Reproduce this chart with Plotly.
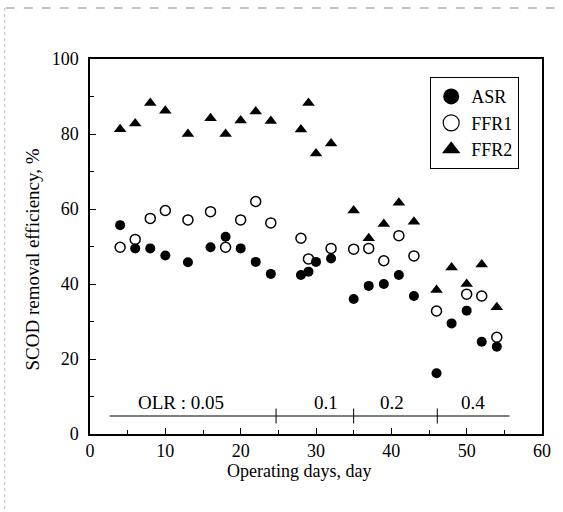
import plotly.graph_objects as go

# ---- data ----
days_asr = [4, 6, 8, 10, 13, 16, 18, 20, 22, 24, 28, 29, 30, 32, 35, 37, 39, 41, 43, 46, 48, 50, 52, 54]
asr = [55.7, 49.5, 49.5, 47.6, 45.8, 49.8, 52.6, 49.5, 45.9, 42.7, 42.4, 43.3, 45.9, 46.8,
       36.0, 39.5, 40.0, 42.4, 36.8, 16.2, 29.5, 32.9, 24.6, 23.3]

days_ffr1 = [4, 6, 8, 10, 13, 16, 18, 20, 22, 24, 28, 29, 32, 35, 37, 39, 41, 43, 46, 50, 52, 54]
ffr1 = [49.8, 51.9, 57.5, 59.6, 57.1, 59.3, 49.8, 57.1, 62.0, 56.3, 52.2, 46.7, 49.5,
        49.3, 49.5, 46.2, 52.9, 47.5, 32.8, 37.3, 36.8, 25.8]

days_ffr2 = [4, 6, 8, 10, 13, 16, 18, 20, 22, 24, 28, 29, 30, 32, 35, 37, 39, 41, 43, 46, 48, 50, 52, 54]
ffr2 = [81.3, 82.8, 88.3, 86.2, 80.0, 84.2, 80.0, 83.6, 86.0, 83.5, 81.2, 88.3, 74.8, 77.5,
        59.6, 52.2, 56.0, 61.7, 56.6, 38.4, 44.4, 40.0, 45.2, 33.8]

# OLR periods
olr_bounds = [2.6, 24.7, 35.0, 46.1, 55.7]
olr_labels = ["OLR : 0.05", "0.1", "0.2", "0.4"]
olr_label_x = [12.1, 31.3, 40.1, 50.9]
olr_line_y = 4.8
olr_label_y = 8.3

x_ticks = [0, 10, 20, 30, 40, 50, 60]
y_ticks = [0, 20, 40, 60, 80, 100]

FONT = "Liberation Serif"

fig = go.Figure()
fig.add_trace(go.Scatter(x=days_asr, y=asr, mode="markers", name="ASR", showlegend=False,
                         marker=dict(symbol="circle", size=10, color="black")))
fig.add_trace(go.Scatter(x=days_ffr1, y=ffr1, mode="markers", name="FFR1", showlegend=False,
                         marker=dict(symbol="circle-open", size=10, color="black", line=dict(width=1.5))))
fig.add_trace(go.Scatter(x=days_ffr2, y=ffr2, mode="markers", name="FFR2", showlegend=False,
                         marker=dict(symbol="triangle-up", size=11, color="black")))

# legend-only entries (larger symbols)
fig.add_trace(go.Scatter(x=[None], y=[None], mode="markers", name="ASR",
                         marker=dict(symbol="circle", size=16, color="black")))
fig.add_trace(go.Scatter(x=[None], y=[None], mode="markers", name="FFR1",
                         marker=dict(symbol="circle-open", size=16, color="black", line=dict(width=1.2))))
fig.add_trace(go.Scatter(x=[None], y=[None], mode="markers", name="FFR2",
                         marker=dict(symbol="triangle-up", size=16, color="black")))

# OLR line and separators
fig.add_shape(type="line", xref="x", yref="y", x0=olr_bounds[0], x1=olr_bounds[-1],
              y0=olr_line_y, y1=olr_line_y, line=dict(color="black", width=1.2))
for b in olr_bounds[1:-1]:
    fig.add_shape(type="line", xref="x", yref="y", x0=b, x1=b,
                  y0=olr_line_y - 2, y1=olr_line_y + 2, line=dict(color="black", width=1))
for lx, lt in zip(olr_label_x, olr_labels):
    fig.add_annotation(x=lx, y=olr_label_y, xref="x", yref="y", text=lt, showarrow=False,
                       font=dict(family=FONT, size=19, color="black"))

# axis titles as annotations
fig.add_annotation(x=(301 - 90) / 456, y=(434 - 471) / 375, xref="paper", yref="paper",
                   xanchor="center", yanchor="middle",
                   text="Operating days, day", showarrow=False,
                   font=dict(family=FONT, size=18, color="black"))
fig.add_annotation(x=(31 - 90) / 456, y=(434 - 260) / 375, xref="paper", yref="paper",
                   xanchor="center", yanchor="middle",
                   text="SCOD removal efficiency, %", showarrow=False, textangle=-90,
                   font=dict(family=FONT, size=19, color="black"))

# scan border artefacts
fig.add_shape(type="line", xref="paper", yref="paper", x0=(5 - 90) / 456, x1=(563 - 90) / 456,
              y0=(434 - 8) / 375, y1=(434 - 8) / 375, line=dict(color="#888", width=1, dash="dash"))
fig.add_shape(type="line", xref="paper", yref="paper", x0=(4 - 90) / 456, x1=(4 - 90) / 456,
              y0=(434 - 8) / 375, y1=(434 - 510) / 375, line=dict(color="#bbb", width=1, dash="dot"))

axis_common = dict(showgrid=False, zeroline=False, showline=True, linecolor="black", linewidth=1.5,
                   mirror=True, ticks="inside", tickcolor="black", tickwidth=1.2,
                   tickfont=dict(family=FONT, size=18, color="black"))

fig.update_xaxes(range=[0, 60], tickvals=x_ticks, ticktext=[str(v) for v in x_ticks], ticklen=6,
                 ticklabelstandoff=0,
                 minor=dict(dtick=5, tick0=0, ticks="inside", ticklen=4, tickcolor="black", tickwidth=1.2),
                 **axis_common)
fig.update_yaxes(range=[0, 100], tickvals=y_ticks, ticktext=[str(v) for v in y_ticks], ticklen=6,
                 ticklabelstandoff=6,
                 minor=dict(dtick=10, tick0=0, ticks="inside", ticklen=4, tickcolor="black", tickwidth=1.2),
                 **axis_common)

fig.update_layout(
    width=563, height=512,
    margin=dict(l=90, r=17, t=59, b=78),
    paper_bgcolor="white", plot_bgcolor="white",
    font=dict(family=FONT, size=18, color="black"),
    legend=dict(x=(433 - 90) / 456, y=(434 - 77) / 375, xanchor="left", yanchor="top",
                bordercolor="black", borderwidth=1.2, bgcolor="white",
                font=dict(family=FONT, size=18, color="black"),
                itemwidth=30, tracegroupgap=0),
)

fig.write_html("out.html", config={"displayModeBar": False},
               post_script="document.body.style.margin='0px';")
